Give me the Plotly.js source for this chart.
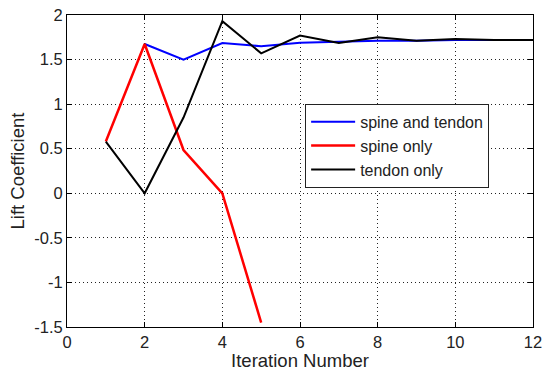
<!DOCTYPE html>
<html><head><meta charset="utf-8">
<script src="https://cdn.plot.ly/plotly-3.0.1.min.js"></script>
<style>html,body{margin:0;padding:0;background:#fff;}</style>
</head><body>
<div id="chart" style="width:543px;height:371px;"></div>
<script>
const xBoth = [2,3,4,5,6,7,8,9,10,11,12];
const yBoth = [1.675,1.50,1.685,1.65,1.69,1.70,1.71,1.71,1.72,1.72,1.72];
const xSpine = [1,2,3,4,5];
const ySpine = [0.58,1.675,0.485,0.0,-1.45];
const xTendon = [1,2,3,4,5,6,7,8,9,10,11,12];
const yTendon = [0.58,0.0,0.85,1.93,1.57,1.77,1.685,1.75,1.71,1.73,1.72,1.72];
const xTicks = [0,2,4,6,8,10,12];
const yTicks = [-1.5,-1,-0.5,0,0.5,1,1.5,2];
const yTickText = ['-1.5','-1','-0.5','0','0.5','1','1.5','2'];

const FONT = 'Liberation Sans, Arial, sans-serif';
const traces = [
  {x:xBoth,y:yBoth,mode:'lines',name:'spine and tendon',line:{color:'#0000ff',width:2}},
  {x:xSpine,y:ySpine,mode:'lines',name:'spine only',line:{color:'#ff0000',width:2.5}},
  {x:xTendon,y:yTendon,mode:'lines',name:'tendon only',line:{color:'#000000',width:2}}
];
const axisCommon = {
  showline:true, mirror:'ticks', linecolor:'#000', linewidth:1,
  ticks:'inside', ticklen:5, tickcolor:'#000',
  showgrid:true, gridcolor:'#222', gridwidth:1, griddash:'1px,3px',
  zeroline:false, tickfont:{family:FONT,size:16.5,color:'#222'}
};
const layout = {
  width:543, height:371,
  margin:{l:67,r:10,t:15,b:44},
  paper_bgcolor:'#fff', plot_bgcolor:'#fff',
  font:{family:FONT,size:16.5,color:'#222'},
  xaxis:Object.assign({}, axisCommon, {range:[0,12], tickvals:xTicks, ticktext:xTicks.map(String),
    title:{text:'Iteration Number', standoff:1, font:{size:18.5}}}),
  yaxis:Object.assign({}, axisCommon, {range:[-1.5,2], tickvals:yTicks, ticktext:yTickText,
    title:{text:'Lift Coefficient', standoff:4, font:{size:18.5}}}),
  showlegend:true,
  legend:{x:0.511, y:0.715, xanchor:'left', yanchor:'top', bgcolor:'#fff',
    bordercolor:'#222', borderwidth:1, font:{size:16}, tracegroupgap:0, itemwidth:44}
};
Plotly.newPlot('chart', traces, layout, {displayModeBar:false, staticPlot:true});
</script>
</body></html>
